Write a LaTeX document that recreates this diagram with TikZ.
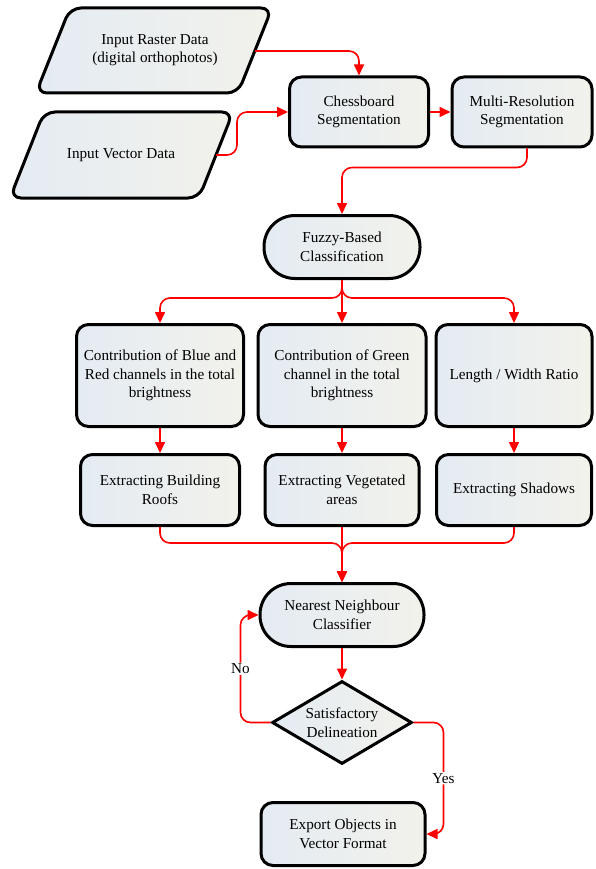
\documentclass[tikz,border=0pt]{standalone}
\usepackage{fontspec}
\setmainfont{Liberation Serif}
\usetikzlibrary{arrows.meta,shapes.geometric,calc}
\definecolor{fillA}{RGB}{228,235,243}
\definecolor{fillB}{RGB}{242,242,235}
\definecolor{arrred}{RGB}{255,0,0}
\begin{document}
\begin{tikzpicture}[x=1pt,y=-1pt,
  base/.style={draw=black,line width=3pt,left color=fillA,right color=fillB,
    align=center,inner sep=2pt,font=\fontsize{15.2}{18.5}\selectfont},
  procbox/.style={base,rectangle,rounded corners=12pt},
  termbox/.style={base,rectangle,rounded corners=31pt},
  decbox/.style={base,diamond,inner sep=0pt,aspect=1.67},
  txt/.style={align=center,font=\fontsize{15.2}{18.5}\selectfont},
  arr/.style={color=arrred,draw=arrred,line width=1.6pt,rounded corners=10pt,
    -{Triangle[length=11pt,width=10pt,fill=arrred]}},
  lbl/.style={fill=white,text=black,inner sep=1pt,font=\fontsize{15.2}{18.5}\selectfont}]
\useasboundingbox (0,0) rectangle (595,869);

% parallelograms (input data)
\path[base,rounded corners=11pt] (70,8) -- (272,8) -- (238,93) -- (36,93) -- cycle;
\node[txt] (raster) at (155,50) {Input Raster Data\\(digital orthophotos)};
\coordinate (rasterR) at (255,51);
\path[base,rounded corners=11pt] (44,112) -- (233,112) -- (199,198) -- (10,198) -- cycle;
\node[txt] (vector) at (121,155) {Input Vector Data};
\coordinate (vectorR) at (216,155);

% process nodes
\node[procbox,minimum width=139pt,minimum height=70pt] (cb) at (359,112) {Chessboard\\Segmentation};
\node[procbox,minimum width=140pt,minimum height=70pt] (mr) at (522,112) {Multi-Resolution\\Segmentation};
\node[termbox,minimum width=156pt,minimum height=63pt] (fz) at (342,247) {Fuzzy-Based\\Classification};

\node[procbox,minimum width=167pt,minimum height=102pt] (b1) at (160,375.5) {Contribution of Blue and\\Red channels in the total\\brightness};
\node[procbox,minimum width=168pt,minimum height=102pt] (b2) at (342,375.5) {Contribution of Green\\channel in the total\\brightness};
\node[procbox,minimum width=156pt,minimum height=102pt] (b3) at (514,375.5) {Length / Width Ratio};

\node[procbox,minimum width=159pt,minimum height=71pt] (b4) at (160,490) {Extracting Building\\Roofs};
\node[procbox,minimum width=154pt,minimum height=71pt] (b5) at (342,490) {Extracting Vegetated\\areas};
\node[procbox,minimum width=155pt,minimum height=71pt] (b6) at (514,490) {Extracting Shadows};

\node[termbox,minimum width=164pt,minimum height=63pt] (nn) at (342,615) {Nearest Neighbour\\Classifier};
\node[decbox,minimum width=140pt,minimum height=83pt] (dm) at (342,722.5) {Satisfactory\\Delineation};
\node[procbox,minimum width=164pt,minimum height=63pt] (ex) at (343,834) {Export Objects in\\Vector Format};

% connectors
\draw[arr] (rasterR) -| (cb.north);
\draw[arr] (vectorR) -- ++(21,0) |- (cb.west);
\draw[arr] (cb.east) -- (mr.west);
\draw[arr] ($(mr.south)+(5,0)$) -- ++(0,19) -| (fz.north);

\coordinate (fork) at ($(fz.south)+(0,18)$);
\draw[arr] (fz.south) -- (fork) -| (b1.north);
\draw[arr] (fz.south) -- (fork) -| (b3.north);
\draw[arr] (fz.south) -- (b2.north);

\draw[arr] (b1.south) -- (b4.north);
\draw[arr] (b2.south) -- (b5.north);
\draw[arr] (b3.south) -- (b6.north);

\coordinate (merge) at (342,543);
\draw[arr] (b4.south) |- (merge) -- (nn.north);
\draw[arr] (b6.south) |- (merge) -- (nn.north);
\draw[arr] (b5.south) -- (nn.north);

\draw[arr] (nn.south) -- (dm.north);
\draw[arr] (dm.west) -- ++(-30,0) |- node[lbl,pos=0.25] {No} (nn.west);
\draw[arr] (dm.east) -- ++(30,0) |- node[lbl,pos=0.25] {Yes} (ex.east);
\end{tikzpicture}
\end{document}
